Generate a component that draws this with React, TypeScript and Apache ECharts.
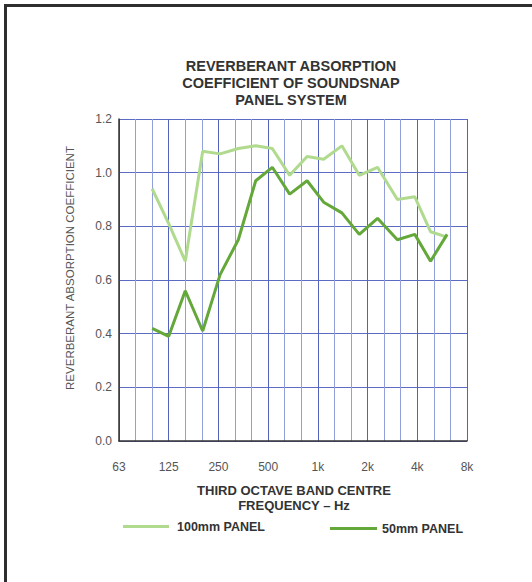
import { useEffect, useRef } from 'react';
import * as echarts from 'echarts';

// x positions in third-octave steps above 63 Hz (0 = 63 Hz, 21 = 8 kHz)
const bandPosition = [2, 3, 4, 5.05, 6.1, 7.2, 8.25, 9.25, 10.3, 11.35, 12.35, 13.45, 14.5, 15.6, 16.8, 17.85, 18.8, 19.8];
const panel100mm = [0.94, 0.81, 0.67, 1.08, 1.07, 1.09, 1.10, 1.09, 0.99, 1.06, 1.05, 1.10, 0.99, 1.02, 0.90, 0.91, 0.78, 0.76];
const panel50mm = [0.42, 0.39, 0.56, 0.41, 0.62, 0.75, 0.97, 1.02, 0.92, 0.97, 0.89, 0.85, 0.77, 0.83, 0.75, 0.77, 0.67, 0.77];
const octaveLabels = ['63', '125', '250', '500', '1k', '2k', '4k', '8k'];
const seriesNames = ['100mm PANEL', '50mm PANEL'];
const titleLines = ['REVERBERANT ABSORPTION', 'COEFFICIENT OF SOUNDSNAP', 'PANEL SYSTEM'];
const xNameLines = ['THIRD OCTAVE BAND CENTRE', 'FREQUENCY \u2013 Hz'];
const yName = 'REVERBERANT ABSORPTION COEFFICIENT';

const FONT = '"Liberation Sans", Arial, Helvetica, sans-serif';
const LIGHT = '#b0da8e';
const DARK = '#64a83a';

export default function App() {
  const ref = useRef<HTMLDivElement>(null);
  useEffect(() => {
    if (!ref.current) return;
    const chart = echarts.init(ref.current, null, { renderer: 'svg' });
    const pair = (vals: number[]) => vals.map((v, i) => [bandPosition[i], v]);
    const legendText = { fontSize: 12.5, fontWeight: 'bold', color: '#333', fontFamily: FONT };
    const option: any = {
      animation: false,
      backgroundColor: '#ffffff',
      grid: { left: 119, right: 65, top: 119, bottom: 141, containLabel: false },
      xAxis: [
        {
          type: 'value', position: 'bottom', min: 0, max: 21, interval: 1,
          axisLine: { show: true, onZero: false, lineStyle: { color: '#333', width: 1.5 } },
          axisTick: { show: false }, axisLabel: { show: false },
          splitLine: { show: true, lineStyle: { color: '#939fdb', width: 1 } },
        },
        {
          type: 'value', position: 'bottom', min: 0, max: 21, interval: 3,
          axisLine: { show: false }, axisTick: { show: false },
          axisLabel: {
            margin: 20, fontSize: 12, color: '#555', fontFamily: FONT,
            formatter: (v: number) => octaveLabels[Math.round(v / 3)] ?? '',
          },
          splitLine: { show: true, lineStyle: { color: '#5262bd', width: 1 } },
        },
      ],
      yAxis: {
        type: 'value', min: 0, max: 1.2, interval: 0.2,
        axisLine: { show: true, lineStyle: { color: '#333', width: 1.5 } },
        axisTick: { show: false },
        axisLabel: { margin: 7, fontSize: 12, color: '#555', fontFamily: FONT, formatter: (v: number) => v.toFixed(1) },
        splitLine: { show: true, lineStyle: { color: '#5c6bc4', width: 1 } },
      },
      legend: [
        {
          data: [seriesNames[0]], left: 123, top: 520, padding: 0, icon: 'rect', itemWidth: 46, itemHeight: 3,
          textStyle: { ...legendText, padding: [17, 0, 0, 3] },
        },
        {
          data: [seriesNames[1]], left: 330, top: 522, padding: 0, icon: 'rect', itemWidth: 47, itemHeight: 3,
          textStyle: { ...legendText, padding: [17, 0, 0, 0] },
        },
      ],
      series: [
        {
          name: seriesNames[0], type: 'line', xAxisIndex: 0, data: pair(panel100mm), symbol: 'none',
          lineStyle: { color: LIGHT, width: 3 }, itemStyle: { color: LIGHT }, z: 3,
        },
        {
          name: seriesNames[1], type: 'line', xAxisIndex: 0, data: pair(panel50mm), symbol: 'none',
          lineStyle: { color: DARK, width: 3 }, itemStyle: { color: DARK }, z: 4,
        },
      ],
      graphic: [
        { type: 'rect', shape: { x: 4, y: 4, width: 528, height: 3 }, style: { fill: '#2e2e2e' } },
        { type: 'rect', shape: { x: 4, y: 4, width: 3, height: 578 }, style: { fill: '#2e2e2e' } },
        ...titleLines.map((t, i) => ({
          type: 'text', x: 291, y: 66 + i * 17,
          style: { text: t, align: 'center', verticalAlign: 'middle', fontSize: 14.5, fontWeight: 'bold', fontFamily: FONT, fill: '#333' },
        })),
        ...xNameLines.map((t, i) => ({
          type: 'text', x: 294, y: 490 + i * 15.5,
          style: { text: t, align: 'center', verticalAlign: 'middle', fontSize: 13, fontWeight: 'bold', fontFamily: FONT, fill: '#333' },
        })),
        {
          type: 'text', x: 70, y: 268, rotation: Math.PI / 2,
          style: { text: yName, align: 'center', verticalAlign: 'middle', fontSize: 11.5, fontFamily: FONT, fill: '#555' },
        },
      ],
    };
    chart.setOption(option);
    return () => chart.dispose();
  }, []);
  return <div ref={ref} style={{ position: 'fixed', left: 0, top: 0, width: 532, height: 582 }} />;
}
